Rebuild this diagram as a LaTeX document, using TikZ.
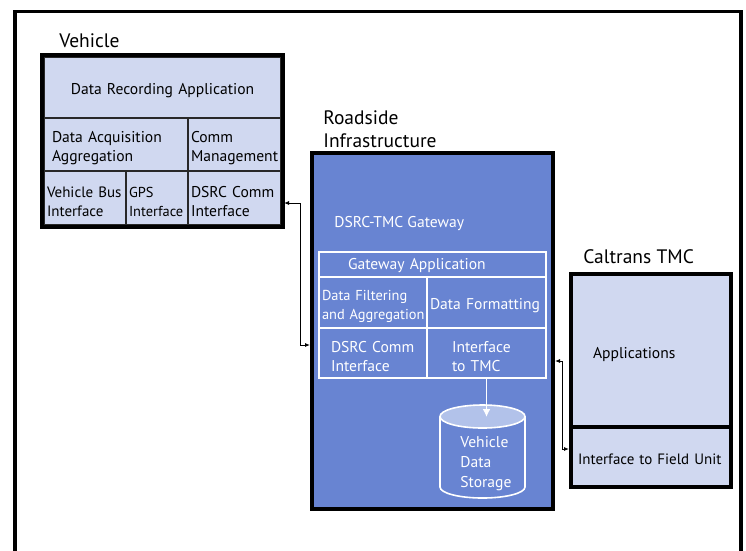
\documentclass[tikz,border=0pt]{standalone}
\usepackage{fontspec}
\setmainfont{PT Sans}
\usetikzlibrary{arrows.meta}
\definecolor{vehfill}{RGB}{208,216,240}
\definecolor{gwblue}{RGB}{104,132,210}
\definecolor{diskfill}{RGB}{178,194,234}
\definecolor{cellline}{RGB}{40,40,40}

\begin{document}
\begin{tikzpicture}[x=1pt,y=-1pt,
    every node/.style={outer sep=0pt},
    cell/.style={draw=cellline, line width=1.6pt, fill=vehfill, anchor=north west, inner xsep=3pt, align=left,
        font=\fontsize{15.6}{19}\selectfont, text height=18pt},
    gwcell/.style={cell, draw=white, fill=none, text=white},
    frame/.style={draw=black, line width=4pt, anchor=north west, inner sep=0pt},
    heading/.style={anchor=west, align=left, font=\fontsize{19.5}{23}\selectfont},
    link/.style={{Latex[length=5pt,width=4pt]}-{Latex[length=5pt,width=4pt]}, line width=0.9pt},
]
    \useasboundingbox (0,0) rectangle (746,550);
    \clip (0,0) rectangle (746,550);
    % outer frame, runs off the bottom
    \draw[line width=3.5pt] (15,600) -- (15,11.5) -- (741,11.5) -- (741,600);

    % Vehicle
    \node[heading] (vehlbl) at (56,41) {Vehicle};
    \node[cell, minimum width=237, minimum height=61, text width=231, align=center] (rec) at (44,57) {Data Recording Application};
    \node[cell, minimum width=144, minimum height=53, inner xsep=8pt, text width=128] (acq) at (44,118) {Data Acquisition\\Aggregation};
    \node[cell, minimum width=93, minimum height=53, text width=87] (cmgmt) at (188,118) {Comm\\\mbox{Management}};
    \node[cell, minimum width=82, minimum height=54, text width=76, font=\fontsize{15}{19}\selectfont] (vbus) at (44,171) {\mbox{Vehicle Bus}\\Interface};
    \node[cell, minimum width=62, minimum height=54, text width=56, font=\fontsize{14.4}{19}\selectfont] (gps) at (126,171) {GPS\\\mbox{Interface}};
    \node[cell, minimum width=93, minimum height=54, text width=87] (dsrcv) at (188,171) {\mbox{DSRC Comm}\\Interface};
    \node[frame, minimum width=241, minimum height=172] (veh) at (42,55) {};

    % Roadside Infrastructure
    \node[heading] (rslbl) at (320,129) {Roadside\\Infrastructure};
    \node[frame, fill=gwblue, minimum width=241, minimum height=356] (gw) at (312,153) {};
    \node[anchor=west, text=white, font=\fontsize{15.6}{19}\selectfont] (gwname) at (331,224) {DSRC-TMC Gateway};
    \node[gwcell, minimum width=227, minimum height=25, inner xsep=29pt, text width=169, text height=13pt] (gwapp) at (319,252) {Gateway Application};
    \node[gwcell, minimum width=108, minimum height=51, text width=102, font=\fontsize{14.4}{19}\selectfont] (filt) at (319,277) {\mbox{Data Filtering}\\\mbox{and Aggregation}};
    \node[gwcell, minimum width=119, minimum height=51, text width=113] (fmt) at (427,277) {\mbox{Data Formatting}};
    \node[gwcell, minimum width=108, minimum height=50, inner xsep=12pt, text width=84] (dsrcr) at (319,328) {\mbox{DSRC Comm}\\Interface};
    \node[gwcell, minimum width=119, minimum height=50, inner xsep=25pt, text width=69] (tmcif) at (427,328) {Interface\\to TMC};
    % storage drum
    \node[minimum width=85, minimum height=93, anchor=north, inner sep=0pt] (store) at (482.5,405) {};
    \filldraw[fill=gwblue, draw=white, line width=1.6pt] (440,416.5) -- (440,487)
        arc[start angle=180, end angle=0, x radius=42.5, y radius=11] -- (525,416.5);
    \filldraw[fill=diskfill, draw=white, line width=1.6pt] (482.5,416.5) ellipse[x radius=42.5, y radius=11.5];
    \node[anchor=west, align=left, text=white, font=\fontsize{15.6}{20}\selectfont] (storetxt) at (457,464) {Vehicle\\Data\\Storage};
    \draw[white, line width=1.6pt, -{Latex[length=8pt,width=8pt]}] (tmcif.south) -- ([yshift=-12pt]tmcif.south |- store.north);

    % Caltrans TMC
    \node[heading] (tmclbl) at (580,257) {Caltrans TMC};
    \node[cell, draw=none, minimum width=156, minimum height=151, inner xsep=20pt, text width=116] (apps) at (573,276) {Applications};
    \node[cell, draw=none, minimum width=156, minimum height=58, inner xsep=5pt, text width=146, font=\fontsize{15}{19}\selectfont] (fieldif) at (573,427) {\mbox{Interface to Field Unit}};
    \draw[line width=4pt] (apps.south west) -- (apps.south east);
    \node[frame, minimum width=160, minimum height=213] (tmc) at (571,274) {};

    % links
    \draw[link] ([xshift=3pt,yshift=-5pt]dsrcv.east) -| ([xshift=-12pt,yshift=-14pt]gw.west) -- ([xshift=-2pt,yshift=-14pt]gw.west);
    \draw[link] ([xshift=2pt,yshift=-30pt]gw.east) -| ([xshift=-11pt,yshift=7pt]fieldif.west) -- ([xshift=-4pt,yshift=7pt]fieldif.west);
\end{tikzpicture}
\end{document}
